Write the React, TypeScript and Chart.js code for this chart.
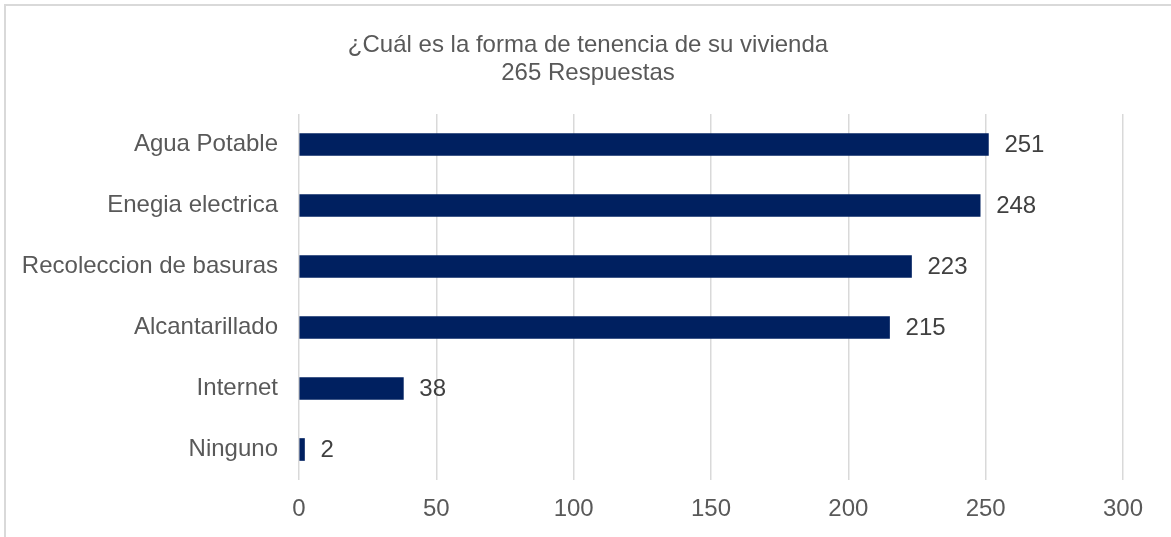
import React, { useEffect, useRef } from "react";
import { Chart, registerables } from "chart.js";

Chart.register(...registerables);

const categories = [
  "Agua Potable",
  "Enegia electrica",
  "Recoleccion de basuras",
  "Alcantarillado",
  "Internet",
  "Ninguno",
];
const values = [251, 248, 223, 215, 38, 2];
const titleLines = ["¿Cuál es la forma de tenencia de su vivienda", "265 Respuestas"];
const xTicksMin = 0;
const xTicksMax = 300;
const xTicksStep = 50;

const FONT = "'Liberation Sans', Arial, sans-serif";

const dataLabelPlugin = {
  id: "dataLabels",
  afterDatasetsDraw(chart: any) {
    const ctx = chart.ctx;
    const meta = chart.getDatasetMeta(0);
    ctx.save();
    ctx.font = `24px ${FONT}`;
    ctx.fillStyle = "#404040";
    ctx.textAlign = "left";
    ctx.textBaseline = "middle";
    meta.data.forEach((el: any, i: number) => {
      ctx.fillText(String(values[i]), el.x + 16, el.y + 1);
    });
    ctx.restore();
  },
};

const titlePlugin = {
  id: "customTitle",
  afterDraw(chart: any) {
    const ctx = chart.ctx;
    ctx.save();
    ctx.font = `24px ${FONT}`;
    ctx.fillStyle = "#595959";
    ctx.textAlign = "center";
    ctx.textBaseline = "alphabetic";
    titleLines.forEach((line, i) => {
      ctx.fillText(line, 588, 52 + i * 28);
    });
    ctx.restore();
  },
};

export default function App() {
  const ref = useRef<HTMLCanvasElement>(null);
  useEffect(() => {
    if (!ref.current) return;
    const chart = new Chart(ref.current, {
      type: "bar",
      data: {
        labels: categories,
        datasets: [
          {
            data: values,
            backgroundColor: "#002060",
            barThickness: 22,
          },
        ],
      },
      plugins: [dataLabelPlugin, titlePlugin],
      options: {
        indexAxis: "y",
        animation: false,
        responsive: false,
        maintainAspectRatio: false,
        layout: { padding: { left: 0, right: 48, top: 114, bottom: 0 } },
        plugins: {
          legend: { display: false },
          tooltip: { enabled: false },
          title: { display: false },
        },
        scales: {
          x: {
            min: xTicksMin,
            max: xTicksMax,
            ticks: {
              stepSize: xTicksStep,
              color: "#595959",
              font: { family: FONT, size: 24 },
              padding: 15,
              maxRotation: 0,
            },
            grid: { color: "#d9d9d9", lineWidth: 1.5, drawTicks: false },
            border: { display: false },
            afterFit(scale: any) {
              scale.height = 57;
            },
          },
          y: {
            ticks: {
              color: "#595959",
              font: { family: FONT, size: 24 },
              padding: 21,
            },
            grid: { display: false, drawTicks: false },
            border: { display: false },
            afterFit(scale: any) {
              scale.width = 299;
            },
          },
        },
      },
    });
    return () => chart.destroy();
  }, []);

  return (
    <div style={{ position: "absolute", left: 0, top: 0, width: 1171, height: 537, background: "#fff", overflow: "hidden" }}>
      <div
        style={{
          position: "absolute",
          left: 4,
          top: 4,
          width: 1200,
          height: 600,
          borderLeft: "2px solid #d9d9d9",
          borderTop: "2px solid #d9d9d9",
        }}
      />
      <canvas ref={ref} width={1171} height={537} style={{ position: "absolute", left: 0, top: 0, width: 1171, height: 537 }} />
    </div>
  );
}
